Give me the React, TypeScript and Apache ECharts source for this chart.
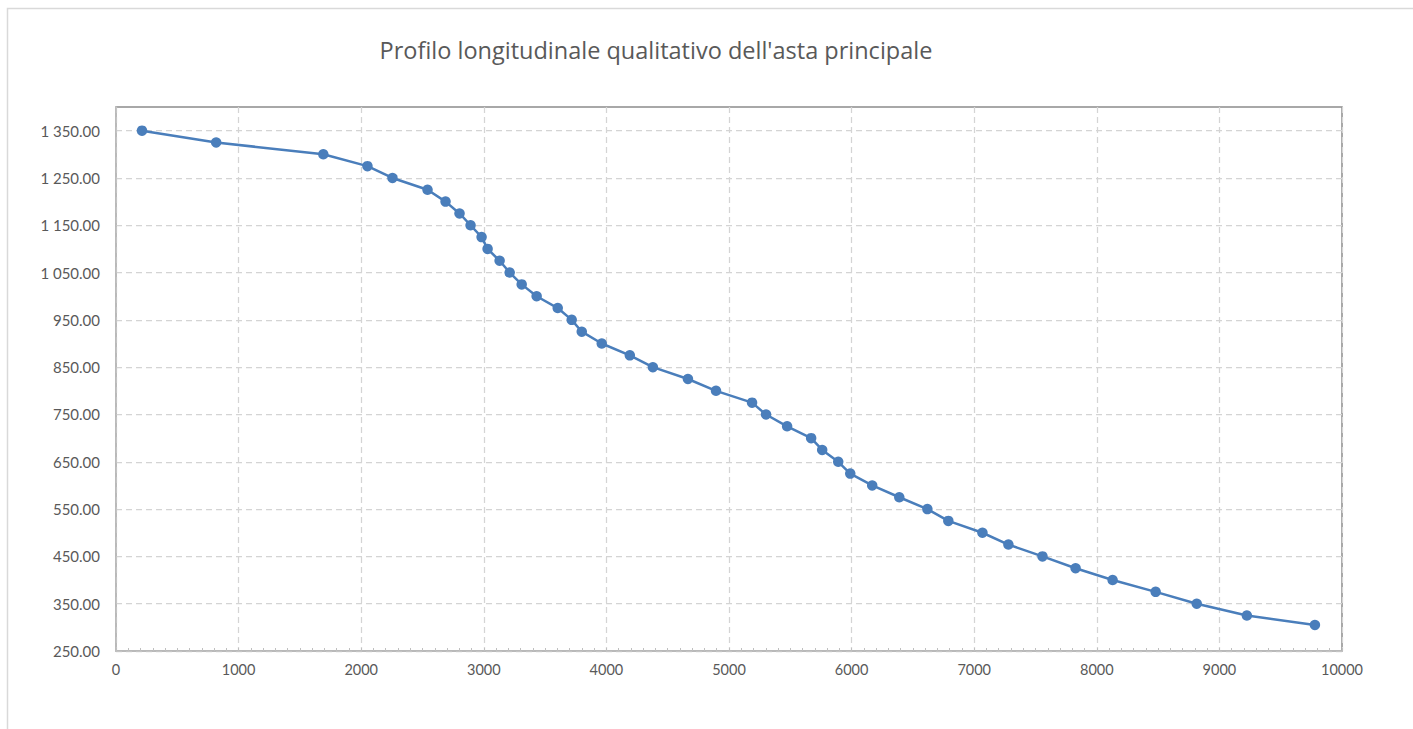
import React, { useEffect, useRef } from "react";
import * as echarts from "echarts";

const TITLE = "Profilo longitudinale qualitativo dell'asta principale";

// distanza progressiva (m)
const distances = [
  212, 817, 1691, 2051, 2255, 2541, 2688, 2802, 2892, 2982, 3031, 3129, 3211, 3309, 3431,
  3603, 3717, 3799, 3962, 4191, 4379, 4665, 4894, 5188, 5302, 5474, 5670, 5760, 5891, 5989,
  6168, 6389, 6618, 6789, 7067, 7279, 7557, 7827, 8129, 8480, 8815, 9224, 9779,
];

// quota (m s.l.m.)
const elevations = [
  1350, 1325, 1300, 1275, 1250, 1225, 1200, 1175, 1150, 1125, 1100, 1075, 1050, 1025, 1000,
  975, 950, 925, 900, 875, 850, 825, 800, 775, 750, 725, 700, 675, 650, 625,
  600, 575, 550, 525, 500, 475, 450, 425, 400, 375, 350, 325, 305,
];

const yTickValues = [250, 350, 450, 550, 650, 750, 850, 950, 1050, 1150, 1250, 1350];

const FONT = "Lato, 'Noto Sans', sans-serif";
const TITLE_FONT = "'Open Sans', 'Noto Sans', sans-serif";
const TEXT_COLOR = "#595959";
const LINE_COLOR = "#4a7ebb";

function fmtY(v: number): string {
  const fixed = v.toFixed(2);
  const [int, dec] = fixed.split(".");
  const withSep = int.replace(/\B(?=(\d{3})+(?!\d))/g, " ");
  return withSep + "." + dec;
}

export default function App() {
  const ref = useRef<HTMLDivElement>(null);

  useEffect(() => {
    document.body.style.margin = "0";
    if (!ref.current) return;
    const chart = echarts.init(ref.current, undefined, { renderer: "svg" });
    const data = distances.map((d, i) => [d, elevations[i]]);
    chart.setOption({
      animation: false,
      backgroundColor: "#ffffff",
      graphic: [
        {
          type: "rect",
          shape: { x: 7.5, y: 8.5, width: 1420, height: 740 },
          style: { fill: "none", stroke: "#d9d9d9", lineWidth: 1.5 },
          silent: true,
          z: 0,
        },
        {
          type: "text",
          x: 656,
          y: 50,
          style: {
            text: TITLE,
            fill: TEXT_COLOR,
            font: `23.5px ${TITLE_FONT}`,
            textAlign: "center",
            textVerticalAlign: "middle",
          },
          silent: true,
        },
      ],
      grid: {
        left: 116,
        top: 107,
        right: 71,
        bottom: 78,
        show: true,
        borderColor: "#8c8c8c",
        borderWidth: 1.5,
        containLabel: false,
        outerBoundsMode: "none",
      },
      xAxis: {
        type: "value",
        min: 0,
        max: 10000,
        interval: 1000,
        axisLine: { show: true, lineStyle: { color: "#bfbfbf", width: 1.5 } },
        axisTick: { show: true, inside: true, length: 3, lineStyle: { color: "#bfbfbf" } },
        minorTick: { show: true, splitNumber: 10, length: 3, lineStyle: { color: "#bfbfbf" } },
        axisLabel: {
          color: TEXT_COLOR,
          fontFamily: FONT,
          fontSize: 14.5,
          margin: 11,
          formatter: (v: number) => String(v),
        },
        splitLine: {
          show: true,
          lineStyle: { color: "#d4d4d4", type: [6, 4], width: 1.25 },
        },
      },
      yAxis: {
        type: "value",
        min: 250,
        max: 1400,
        axisLine: { show: true, lineStyle: { color: "#bfbfbf", width: 1.5 } },
        axisTick: { show: false, customValues: yTickValues },
        axisLabel: {
          customValues: yTickValues,
          color: TEXT_COLOR,
          fontFamily: FONT,
          fontSize: 15,
          margin: 16,
          formatter: (v: number) => fmtY(v),
        },
        splitLine: {
          show: true,
          lineStyle: { color: "#d4d4d4", type: [6, 4], width: 1.25 },
        },
      },
      series: [
        {
          type: "line",
          data,
          symbol: "circle",
          symbolSize: 10.5,
          showAllSymbol: true,
          lineStyle: { color: LINE_COLOR, width: 2.5 },
          itemStyle: { color: LINE_COLOR },
          z: 3,
        },
      ],
    });
    return () => chart.dispose();
  }, []);

  return <div ref={ref} style={{ width: 1413, height: 729 }} />;
}
